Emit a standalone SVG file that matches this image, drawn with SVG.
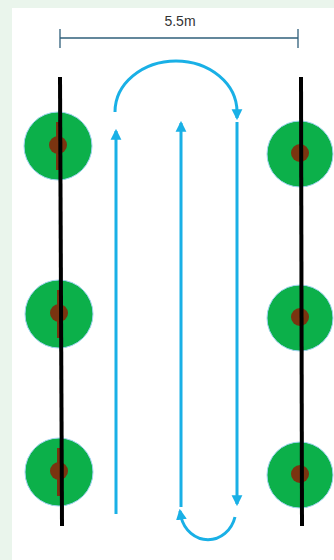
<svg xmlns="http://www.w3.org/2000/svg" width="334" height="560" viewBox="0 0 334 560">
<style>
.pole{stroke:#000;stroke-width:4;fill:none}
.canopy{fill:#0cb04a;stroke:#9fd3f0;stroke-width:1}
.trunk{fill:#7a3410}
.flow{stroke:#19b0e6;stroke-width:3;fill:none;marker-end:url(#ah)}
.dim{stroke:#2f5f7a;stroke-width:1.3}
</style>
<defs>
<marker id="ah" viewBox="0 0 10 10" refX="8" refY="5" markerWidth="3.6" markerHeight="4.4" orient="auto" markerUnits="strokeWidth">
<path d="M0,0 L10,5 L0,10 Z" fill="#19b0e6"/>
</marker>
</defs>
<rect width="334" height="560" fill="#eaf5ec"/>
<rect x="12" y="8" width="322" height="552" fill="#fff"/>
<g id="dimension">
<line class="dim" x1="60" y1="38" x2="298" y2="38"/>
<line class="dim" x1="60" y1="29" x2="60" y2="48"/>
<line class="dim" x1="298" y1="29" x2="298" y2="48"/>
<text x="180" y="26" text-anchor="middle" font-family="Liberation Sans, Arial, sans-serif" font-size="14" fill="#333">5.5m</text>
</g>
<g id="tree-l1"><circle class="canopy" cx="58" cy="146" r="34"/><rect class="trunk" x="56" y="122" width="4" height="48"/><circle class="trunk" cx="58" cy="145" r="9"/></g>
<g id="tree-l2"><circle class="canopy" cx="59" cy="314" r="34"/><rect class="trunk" x="57" y="290" width="4" height="48"/><circle class="trunk" cx="59" cy="313" r="9"/></g>
<g id="tree-l3"><circle class="canopy" cx="59" cy="472" r="34"/><rect class="trunk" x="57" y="448" width="4" height="48"/><circle class="trunk" cx="59" cy="471" r="9"/></g>
<g id="tree-r1"><circle class="canopy" cx="300" cy="154" r="33"/><circle class="trunk" cx="300" cy="153" r="9"/></g>
<g id="tree-r2"><circle class="canopy" cx="300" cy="318" r="33"/><circle class="trunk" cx="300" cy="317" r="9"/></g>
<g id="tree-r3"><circle class="canopy" cx="300" cy="475" r="33"/><circle class="trunk" cx="300" cy="474" r="9"/></g>
<g id="poles">
<line class="pole" x1="60" y1="77" x2="62" y2="526"/>
<line class="pole" x1="301" y1="77" x2="302" y2="526"/>
</g>
<g id="connectors">
<line class="flow" x1="116" y1="514" x2="116" y2="131"/>
<line class="flow" x1="181" y1="507" x2="181" y2="123"/>
<line class="flow" x1="237" y1="122" x2="237" y2="504"/>
<path class="flow" d="M115,112 A61,51 0 0 1 237,112 L237,118"/>
<path class="flow" d="M235,517 A28,31 0 0 1 181,517 L180,511"/>
</g>
</svg>
